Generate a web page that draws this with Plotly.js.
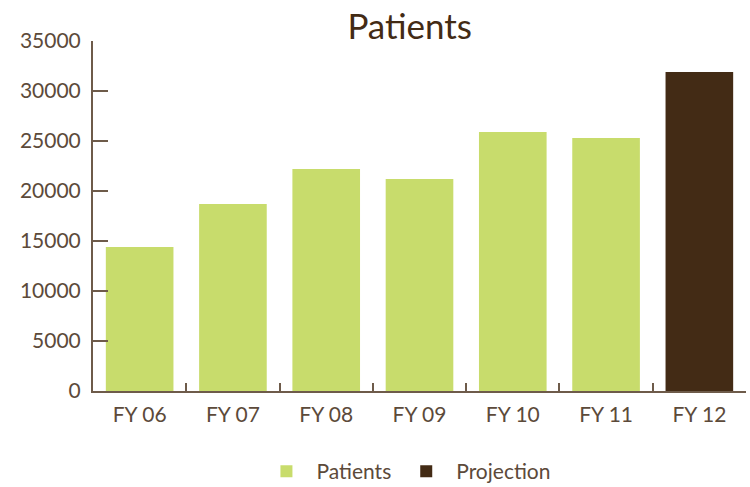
<!DOCTYPE html>
<html>
<head>
<meta charset="utf-8">
<script src="https://cdn.plot.ly/plotly-3.0.1.min.js"></script>
<style>html,body{margin:0;padding:0;background:#fff;}#chart{width:750px;height:487px;}</style>
</head>
<body>
<div id="chart"></div>
<script>
const categories = ["FY 06", "FY 07", "FY 08", "FY 09", "FY 10", "FY 11", "FY 12"];
const patientCats = ["FY 06", "FY 07", "FY 08", "FY 09", "FY 10", "FY 11"];
const patientValues = [14400, 18700, 22200, 21200, 25900, 25300];
const projectionCats = ["FY 12"];
const projectionValues = [31900];
const yTicks = [0, 5000, 10000, 15000, 20000, 25000, 30000, 35000];

const textColor = "#5c4a3a";
const axisColor = "#6e5b4a";
const fontFam = "Lato, 'Open Sans', sans-serif";

const data = [
  {type: "bar", name: "Patients", x: patientCats, y: patientValues,
   marker: {color: "#c8dc6c"}},
  {type: "bar", name: "Projection", x: projectionCats, y: projectionValues,
   marker: {color: "#432b15"}}
];

const layout = {
  width: 750, height: 487,
  margin: {l: 93, r: 4, t: 41, b: 96, autoexpand: false},
  paper_bgcolor: "#fff", plot_bgcolor: "#fff",
  font: {family: fontFam, color: textColor, size: 20},
  title: {text: "Patients", font: {size: 35, color: "#432b15", family: fontFam},
          xref: "paper", x: 0.485, yref: "container", y: 0.945, yanchor: "middle"},
  barmode: "overlay",
  bargap: 0.275,
  showlegend: true,
  legend: {orientation: "h", xanchor: "center", x: 0.48, yanchor: "middle", y: -0.23,
           font: {size: 21, color: textColor}, itemwidth: 50, traceorder: "normal"},
  xaxis: {type: "category", categoryorder: "array", categoryarray: categories,
          showline: true, linecolor: axisColor, linewidth: 2,
          ticks: "inside", tickson: "boundaries", ticklen: 8, tickcolor: axisColor, tickwidth: 2,
          ticklabelstandoff: 4,
          showgrid: false, zeroline: false, tickfont: {size: 21, color: textColor}},
  yaxis: {range: [0, 35000], tickvals: yTicks, ticktext: yTicks.map(String),
          showline: true, linecolor: axisColor, linewidth: 2,
          ticks: "inside", ticklen: 15, tickcolor: axisColor, tickwidth: 2,
          ticklabelstandoff: 6,
          showgrid: false, zeroline: false, tickfont: {size: 21, color: textColor}}
};

Plotly.newPlot("chart", data, layout, {displayModeBar: false, staticPlot: true});
</script>
</body>
</html>
